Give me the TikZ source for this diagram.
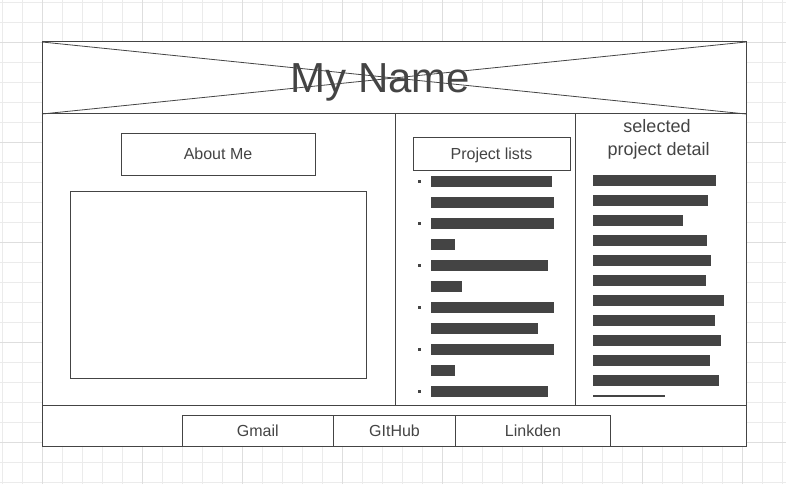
\documentclass[tikz,border=0pt]{standalone}
\usepackage{fontspec}
\setmainfont{Liberation Sans}
\definecolor{ink}{HTML}{444444}
\definecolor{gridminor}{HTML}{EBEBEB}
\definecolor{gridmajor}{HTML}{DEDEDE}
\tikzset{
  minorline/.style={draw=gridminor, line width=0.8pt},
  majorline/.style={draw=gridmajor, line width=0.8pt},
  frameline/.style={draw=ink, line width=1pt},
  box/.style={draw=ink, line width=1pt, rectangle, inner sep=0pt, text=ink,
    font=\fontsize{16}{19}\selectfont, text height=11.5pt, text depth=0pt},
  bar/.style={fill=ink},
  bulletdot/.style={rectangle, fill=ink, inner sep=0pt, minimum size=3pt},
  labeltext/.style={text=ink, inner sep=0pt, anchor=base},
}
\begin{document}
\begin{tikzpicture}[x=1pt,y=-1pt]
\useasboundingbox (0,0) rectangle (786,484);
\fill[white] (0,0) rectangle (786,484);
% grid
\foreach \i in {0,...,39} \draw[minorline] (2+20*\i,0) -- (2+20*\i,484);
\foreach \i in {0,...,24} \draw[minorline] (0,2+20*\i) -- (786,2+20*\i);
\foreach \i in {0,...,7} \draw[majorline] (42+100*\i,0) -- (42+100*\i,484);
\foreach \i in {0,...,4} \draw[majorline] (0,42+100*\i) -- (786,42+100*\i);
% frame
\draw[frameline, fill=white] (42,42) rectangle (746,446);
\coordinate (hTL) at (42,42);
\coordinate (hTR) at (746,42);
\coordinate (hBL) at (42,114);
\coordinate (hBR) at (746,114);
\draw[frameline, line width=0.8pt] (hTL) -- (hBR);
\draw[frameline, line width=0.8pt] (hBL) -- (hTR);
\draw[frameline] (hBL) -- (hBR);
\coordinate (fL) at (42,405);
\coordinate (fR) at (746,405);
\draw[frameline] (fL) -- (fR);
\coordinate (d1t) at (395,114);
\coordinate (d1b) at (395,405);
\coordinate (d2t) at (575.5,114);
\coordinate (d2b) at (575.5,405);
\draw[frameline] (d1t) -- (d1b);
\draw[frameline] (d2t) -- (d2b);
% title
\node[labeltext, font=\fontsize{42}{48}\selectfont] (title) at (380.5,92.7) {My Name};
% about
\node[box, minimum width=194pt, minimum height=42pt] (about) at (218,154) {About Me};
\node[box, minimum width=296pt, minimum height=187pt] (aboutbody) at (218,284.5) {};
% project lists
\node[box, minimum width=157pt, minimum height=33pt] (plist) at (491.5,153.5) {Project lists};
\foreach \w [count=\k from 0] in {552,554,554,455,548,462,554,538,554,455,548}
  \fill[bar] (431,176+21*\k) rectangle (\w,187+21*\k);
\foreach \k in {0,2,4,6,8,10}
  \node[bulletdot] (b\k) at (419.5,181.5+21*\k) {};
% detail
\node[labeltext, font=\fontsize{18}{22}\selectfont] (detail1) at (657,132.6) {selected};
\node[labeltext, font=\fontsize{18}{22}\selectfont] (detail2) at (658.7,155.4) {project detail};
\foreach \w [count=\k from 0] in {716,708,683,707,711,706,724,715,721,710,719}
  \fill[bar] (593,175+20*\k) rectangle (\w,186+20*\k);
\fill[bar] (593,395.2) rectangle (665,397);
% footer
\node[box, minimum width=151pt, minimum height=31pt] (gmail) at (257.75,430.5) {Gmail};
\node[box, minimum width=122.5pt, minimum height=31pt] (github) at (394.5,430.5) {GItHub};
\node[box, minimum width=155pt, minimum height=31pt] (linkden) at (533,430.5) {Linkden};
\end{tikzpicture}
\end{document}
